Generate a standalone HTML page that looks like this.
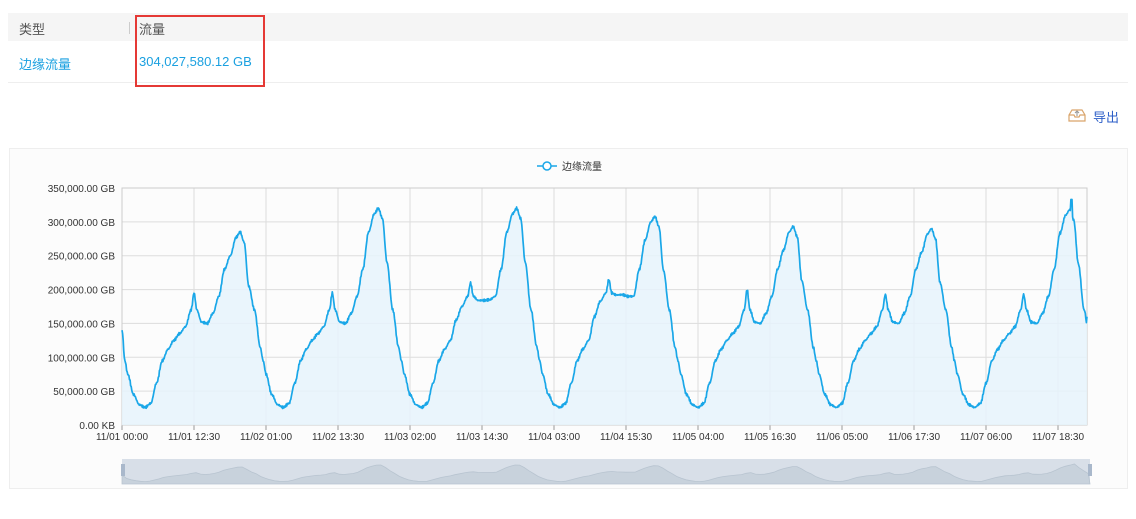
<!DOCTYPE html>
<html><head><meta charset="utf-8">
<style>
body{margin:0;width:1136px;height:519px;background:#fff;font-family:"Liberation Sans","Noto Sans CJK SC",sans-serif;position:relative;overflow:hidden}
.abs{position:absolute}
</style></head><body>
<div class="abs" style="left:8px;top:13px;width:1120px;height:28px;background:#f5f5f5"></div>
<div class="abs" style="left:19px;top:19px;font-size:13px;color:#555">类型</div>
<div class="abs" style="left:129px;top:22px;width:1px;height:12px;background:#ccc"></div>
<div class="abs" style="left:139px;top:19px;font-size:13px;color:#555">流量</div>
<div class="abs" style="left:19px;top:54px;font-size:13px;color:#1aa0e0">边缘流量</div>
<div class="abs" style="left:139px;top:54px;font-size:13px;color:#1aa0e0">304,027,580.12 GB</div>
<div class="abs" style="left:8px;top:82px;width:1120px;height:1px;background:#eee"></div>
<div class="abs" style="left:135px;top:15px;width:126px;height:68px;border:2px solid #e53935"></div>
<svg class="abs" style="left:1067px;top:107px" width="20" height="16" viewBox="0 0 20 16"><path d="M2 8 L5 3 H15 L18 8 V14 H2 Z M2 8 H7 L8 10 H12 L13 8 H18" fill="none" stroke="#d9a46a" stroke-width="1.2"/><path d="M10 9 V4 M8 6 L10 4 L12 6" fill="none" stroke="#999" stroke-width="1.1"/></svg>
<div class="abs" style="left:1093px;top:107px;font-size:13px;color:#2d5fc8">导出</div>
<div class="abs" style="left:9px;top:148px;width:1117px;height:339px;border:1px solid #eee;background:#fcfcfc"></div>
<svg id="c" class="abs" style="left:0;top:0" width="1136" height="519"></svg>
<script>
var s='',X0=122,X1=1087,Y0=425,Y1=188;
function yv(v){return Y0-(v/350)*(Y0-Y1);}
var labs=['350,000.00 GB','300,000.00 GB','250,000.00 GB','200,000.00 GB','150,000.00 GB','100,000.00 GB','50,000.00 GB','0.00 KB'];
for(var i=0;i<8;i++){var y=Y1+i*(Y0-Y1)/7;s+='<line x1="'+X0+'" x2="'+X1+'" y1="'+y+'" y2="'+y+'" stroke="#ddd"/>';s+='<text x="115" y="'+(y+4)+'" text-anchor="end" font-size="10" fill="#333">'+labs[i]+'</text>';}
var xl=['11/01 00:00','11/01 12:30','11/02 01:00','11/02 13:30','11/03 02:00','11/03 14:30','11/04 03:00','11/04 15:30','11/05 04:00','11/05 16:30','11/06 05:00','11/06 17:30','11/07 06:00','11/07 18:30'];
for(i=0;i<14;i++){var x=X0+i*72;s+='<line x1="'+x+'" x2="'+x+'" y1="'+Y1+'" y2="'+Y0+'" stroke="#ddd"/><line x1="'+x+'" x2="'+x+'" y1="'+Y0+'" y2="'+(Y0+5)+'" stroke="#999"/>';s+='<text x="'+x+'" y="'+(Y0+15)+'" text-anchor="middle" font-size="10" fill="#333">'+xl[i]+'</text>';}
s+='<rect x="'+X0+'" y="'+Y1+'" width="'+(X1-X0)+'" height="'+(Y0-Y1)+'" fill="none" stroke="#ccc"/>';
var P=[285,320,320,308,293,290,318],B=[195,195,210,215,200,193,193],M=[0,0,20,25,0,0,0];
function key(d){var p=P[d],b=B[d],m=M[d];return [[0,d==0?140:115],[0.5,95],[1,75],[2,45],[3,30],[4,26],[5,32],[6,62],[7,95],[8,112],[9,125],[10,135+m],[11,145+m*1.5],[12,170+m],[12.5,b],[13,170+m],[13.8,152+m*1.6],[14.8,150+m*1.7],[15.8,165+m],[16.8,190],[17.8,230],[18.8,p-35],[19.8,p-8],[20.5,p],[21.2,p-15],[22,p-80],[23,170],[24,115]];}
var pts=[];
for(var d=0;d<7;d++){var k=key(d);for(var h=0;h<24;h+=0.1){var j=0;while(k[j+1][0]<h)j++;var a=k[j],b2=k[j+1],t=(h-a[0])/(b2[0]-a[0]);t=t*t*(3-2*t);var v=a[1]+(b2[1]-a[1])*t;v+=Math.sin(h*37+d*11)*1.2+Math.sin(h*91+d)*0.8;if(d==6&&Math.abs(h-20.8)<0.15)v=333;var hh=d*24+h;if(hh>167.5)break;pts.push([X0+hh*(X1-X0)/167.5,yv(v)]);}}
pts.push([X1,yv(160)]);
var ln=pts.map(function(p){return p[0].toFixed(1)+','+p[1].toFixed(1)}).join(' ');
s+='<polygon points="'+X0+','+Y0+' '+ln+' '+X1+','+Y0+'" fill="#e6f3fb" fill-opacity="0.85"/>';
s+='<polyline points="'+ln+'" fill="none" stroke="#1aa7e8" stroke-width="1.7" stroke-linejoin="round"/>';
s+='<line x1="537" x2="557" y1="166" y2="166" stroke="#1aa7e8" stroke-width="1.5"/><circle cx="547" cy="166" r="4" fill="#fff" stroke="#1aa7e8" stroke-width="1.5"/><text x="562" y="170" font-size="10" fill="#333">边缘流量</text>';
s+='<rect x="122" y="459" width="968" height="25" fill="#d8dfe8"/>';
var sp=pts.filter(function(p,i){return i%8==0}).map(function(p){return (122+(p[0]-X0)*968/(X1-X0)).toFixed(1)+','+(483-(Y0-p[1])/(Y0-Y1)*20).toFixed(1)}).join(' ');
s+='<polygon points="122,484 '+sp+' 1090,484" fill="#c8d2dc" stroke="#b8c4d0" stroke-width="0.8"/>';
s+='<rect x="121" y="464" width="4" height="12" fill="#a9b8cb"/><rect x="1088" y="464" width="4" height="12" fill="#a9b8cb"/>';
document.getElementById('c').innerHTML=s;
</script>
</body></html>
